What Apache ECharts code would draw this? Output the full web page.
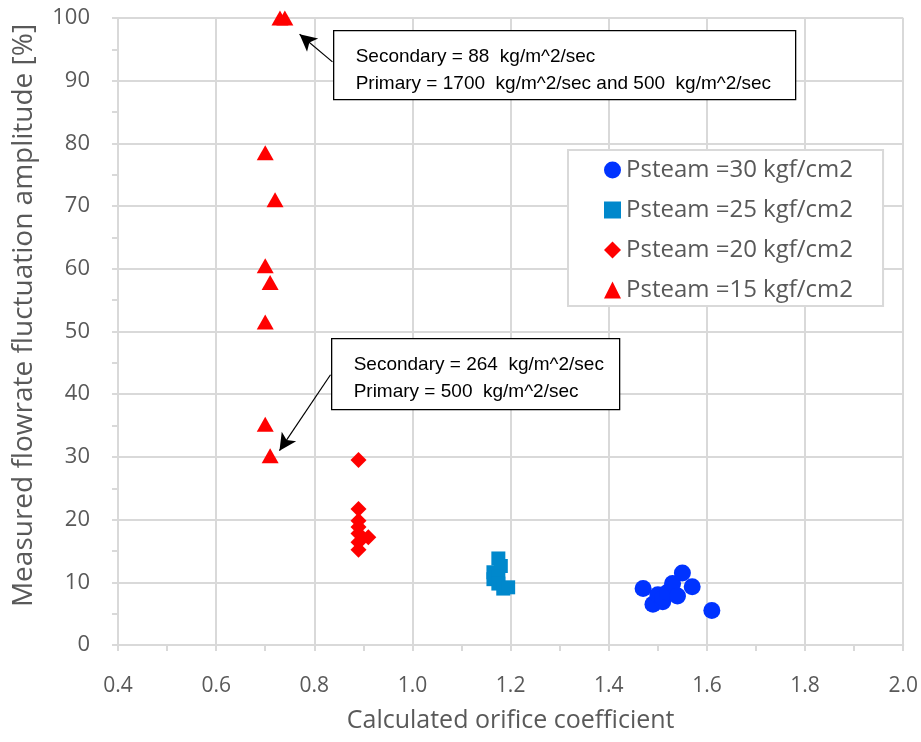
<!DOCTYPE html>
<html>
<head>
<meta charset="utf-8">
<script src="https://cdn.jsdelivr.net/npm/echarts@6/dist/echarts.min.js"></script>
<style>
  html, body { margin: 0; padding: 0; background: #fff; }
  #chart { width: 921px; height: 742px; }
</style>
</head>
<body>
<div id="chart"></div>
<script>
// series names
const seriesNames = ['Psteam =30 kgf/cm2', 'Psteam =25 kgf/cm2', 'Psteam =20 kgf/cm2', 'Psteam =15 kgf/cm2'];

// [orifice coefficient, fluctuation amplitude %]
const p30 = [
  [1.47, 9.0], [1.49, 6.5], [1.50, 8.0], [1.51, 6.9], [1.51, 7.5], [1.52, 8.4],
  [1.53, 9.8], [1.54, 7.8], [1.55, 11.5], [1.57, 9.3], [1.61, 5.5]
];
const p25 = [
  [1.175, 13.8], [1.18, 12.6], [1.165, 11.6], [1.165, 10.5], [1.175, 11.0],
  [1.175, 9.8], [1.185, 9.0], [1.195, 9.2]
];
const p20 = [
  [0.89, 29.5], [0.89, 21.7], [0.89, 19.8], [0.89, 18.8], [0.89, 17.8],
  [0.91, 17.2], [0.89, 16.4], [0.89, 15.2]
];
const p15 = [
  [0.73, 100], [0.74, 100], [0.70, 78.5], [0.72, 71.0], [0.70, 60.5],
  [0.71, 57.8], [0.70, 51.5], [0.70, 35.2], [0.71, 30.2]
];

// annotation arrows: [from, to] in data coords
const arrows = [
  [[0.837, 93.0], [0.770, 97.4]],
  [[0.833, 43.1], [0.729, 31.0]]
];
const note1 = ['Secondary = 88  kg/m^2/sec', 'Primary = 1700  kg/m^2/sec and 500  kg/m^2/sec'];
const note2 = ['Secondary = 264  kg/m^2/sec', 'Primary = 500  kg/m^2/sec'];

const grey = '#595959';
const lineGrey = '#d9d9d9';
const font = '"Open Sans"';
const noteFont = '"Liberation Sans"';

let myChart = echarts.init(document.getElementById('chart'));

function noteBox(x, y, w, h, lines) {
  return {
    type: 'group',
    left: x, top: y,
    z: 100,
    children: [
      { type: 'rect', z: 100, shape: { x: 0, y: 0, width: w, height: h },
        style: { fill: '#fff', stroke: '#000', lineWidth: 1.3 } },
      { type: 'text', z: 101, x: 22, y: 13,
        style: { text: lines.join('\n'), font: '19px ' + noteFont, fill: '#000', lineHeight: 27 } }
    ]
  };
}

myChart.setOption({
  animation: false,
  grid: { left: 118, right: 16, top: 18, bottom: 97 },
  xAxis: {
    type: 'value',
    min: 0.4, max: 2.0, interval: 0.2,
    name: 'Calculated orifice coefficient',
    nameLocation: 'middle', nameGap: 63,
    nameTextStyle: { color: grey, fontSize: 25, fontFamily: font },
    axisLine: { show: true, lineStyle: { color: lineGrey, width: 2 } },
    axisTick: { show: true, length: 6, lineStyle: { color: lineGrey, width: 2 } },
    minorTick: { show: true, splitNumber: 2, length: 6, lineStyle: { color: lineGrey, width: 2 } },
    axisLabel: { color: grey, fontSize: 21, fontFamily: font, margin: 31,
      formatter: v => v.toFixed(1) },
    splitLine: { show: true, lineStyle: { color: lineGrey, width: 2 } }
  },
  yAxis: {
    type: 'value',
    min: 0, max: 100, interval: 10,
    name: 'Measured flowrate fluctuation amplitude [%]',
    nameLocation: 'middle', nameGap: 80,
    nameTextStyle: { color: grey, fontSize: 28, fontFamily: font, padding: [0, 0, 0, 32] },
    axisLine: { show: true, lineStyle: { color: lineGrey, width: 2 } },
    axisTick: { show: true, length: 6, lineStyle: { color: lineGrey, width: 2 } },
    minorTick: { show: true, splitNumber: 2, length: 6, lineStyle: { color: lineGrey, width: 2 } },
    axisLabel: { color: grey, fontSize: 22, fontFamily: font, margin: 28 },
    splitLine: { show: true, lineStyle: { color: lineGrey, width: 2 } }
  },
  legend: {
    orient: 'vertical',
    left: 568, top: 150,
    padding: [8, 30, 4, 36],
    itemGap: 16,
    itemWidth: 17, itemHeight: 17,
    backgroundColor: '#fff',
    borderColor: lineGrey, borderWidth: 2,
    textStyle: { color: grey, fontSize: 24, fontFamily: font },
    data: seriesNames
  },
  series: [
    { name: seriesNames[0], type: 'scatter', symbol: 'circle', symbolSize: 17,
      itemStyle: { color: '#0033ff', opacity: 1 }, data: p30 },
    { name: seriesNames[1], type: 'scatter', symbol: 'rect', symbolSize: 14,
      itemStyle: { color: '#0088cc', opacity: 1 }, data: p25 },
    { name: seriesNames[2], type: 'scatter', symbol: 'diamond', symbolSize: [16, 16],
      itemStyle: { color: '#ff0000', opacity: 1 }, data: p20 },
    { name: seriesNames[3], type: 'scatter', symbol: 'triangle', symbolSize: [17, 15],
      itemStyle: { color: '#ff0000', opacity: 1 }, data: p15,
      markLine: {
        silent: true,
        symbol: ['none', 'arrow'],
        symbolSize: [13, 17],
        label: { show: false },
        lineStyle: { color: '#000', width: 1.2, type: 'solid' },
        data: arrows.map(a => [{ coord: a[0] }, { coord: a[1] }])
      }
    }
  ],
  graphic: [
    noteBox(333, 30, 462, 69, note1),
    noteBox(331, 338, 288, 71, note2)
  ]
});

window.addEventListener('resize', function () {
  myChart.resize();
});
</script>
</body>
</html>
